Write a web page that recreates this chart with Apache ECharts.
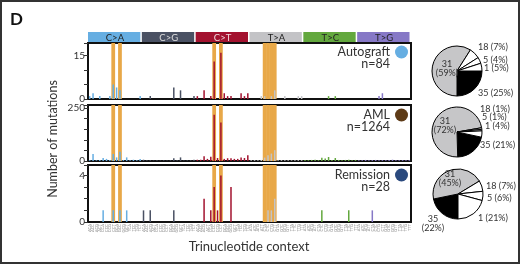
<!DOCTYPE html>
<html>
<head>
<meta charset="utf-8">
<script src="https://cdn.jsdelivr.net/npm/echarts@6/dist/echarts.min.js"></script>
<style>
  html, body { margin: 0; padding: 0; background: #fff; }
  #main { width: 520px; height: 264px; }
</style>
</head>
<body>
<div id="main"></div>
<script>
// mutation classes and trinucleotide context labels
var mutTypes = ['C>A', 'C>G', 'C>T', 'T>A', 'T>C', 'T>G'];
var bases = ['A', 'C', 'G', 'T'];
var categories = [];
mutTypes.forEach(function (t) {
  bases.forEach(function (b5) {
    bases.forEach(function (b3) { categories.push(b5 + t[0] + b3); });
  });
});

// counts per context (16 per class, order C>A, C>G, C>T, T>A, T>C, T>G)
var autograft = [
  1,2,0,1, 0,0,1,5, 4,3,0,0, 0,0,0,1,
  0,0,1,0, 0,0,0,0, 0,4,0,3, 0,0,0,1,
  1,0,3,0, 1,13,0,16, 2,1,1,0, 0,2,1,2,
  0,0,0,1, 1,0,1,3, 0,0,1,0, 0,0,1,1,
  0,0,0,0, 0,0,0,1, 0,1,0,0, 0,0,0,0,
  0,0,0,0, 0,0,1,2, 0,0,0,0, 0,0,0,0
];
var aml = [
  4,33,3,5, 14,10,5,33, 17,44,4,17, 3,6,4,10,
  6,3,3,2, 3,2,3,2, 3,13,3,17, 2,3,3,6,
  6,6,22,10, 20,218,14,182, 10,13,13,10, 10,17,14,27,
  3,4,3,5, 16,27,35,51, 3,4,3,4, 3,4,4,4,
  5,4,5,6, 4,15,12,19, 5,14,5,4, 5,6,4,5,
  4,4,5,3, 4,5,4,4, 4,5,6,4, 3,4,3,4
];
var remission = [
  0,0,0,0, 1,0,0,1, 0,1,0,1, 0,0,0,0,
  1,0,1,0, 0,0,0,0, 0,1,0,0, 0,0,0,0,
  0,0,2,0, 1,3,1,4, 0,0,3,0, 0,0,0,0,
  0,0,0,0, 0,1,1,2, 0,0,0,0, 0,0,0,0,
  0,0,0,0, 0,1,0,0, 0,0,0,0, 0,1,0,0,
  0,0,0,0, 1,0,0,0, 0,0,0,0, 0,0,0,0
];
var highlighted = [7, 9, 37, 39, 52, 53, 54, 55];

var sampleNames = ['Autograft', 'AML', 'Remission'];
var sampleN = ['n=84', 'n=1264', 'n=28'];
var yMax = [19.4, 264, 4.9];
var yStep = [5, 50, 1];
var yShown = [[0, 15], [0, 250], [0, 4]];

// pies: slice names (counts) and percentages
var pieNames = ['35', '31', '18', '5', '1'];
var piePct = [
  [25, 59, 7, 4, 5],
  [21, 72, 1, 1, 4],
  [22, 45, 7, 6, 21]
];

var typeColors = ['#66aee2', '#4a5163', '#a3122f', '#c3c3c6', '#63a83e', '#8678c6'];
var stripText = ['#222', '#ddd', '#f0d8dc', '#222', '#222', '#222'];
var dotColors = ['#66aee2', '#5e3b17', '#2b4a7e'];
var bandColor = '#e8a848';
var font = 'Lato';

var gridLeft = 88, gridW = 323;
var gridTops = [43, 105, 165], gridHs = [56, 56, 57];
var bandW = gridW / categories.length + 0.4;

var grids = [], xAxes = [], yAxes = [], ser = [];
[autograft, aml, remission].forEach(function (vals, i) {
  grids.push({ left: gridLeft, top: gridTops[i], width: gridW, height: gridHs[i],
    show: true, borderColor: '#111', borderWidth: 2, backgroundColor: 'transparent' });
  xAxes.push({
    type: 'category', gridIndex: i, data: categories,
    axisLine: { show: false }, axisTick: { show: false }, splitLine: { show: false },
    axisLabel: i === 2 ? { show: true, interval: 0, rotate: 90, fontSize: 4, margin: 2,
      color: '#888', fontFamily: font } : { show: false }
  });
  yAxes.push({
    type: 'value', gridIndex: i, min: 0, max: yMax[i], interval: yStep[i],
    axisLine: { show: false }, splitLine: { show: false },
    axisTick: { show: true, length: 4, lineStyle: { color: '#333', width: 1 } },
    axisLabel: { fontSize: 10, color: '#333', margin: 3, fontFamily: font,
      formatter: function (v) { return yShown[i].indexOf(v) >= 0 ? String(v) : ''; } }
  });
});
[0, 1, 2].forEach(function (i) {
  xAxes.push({ type: 'category', gridIndex: i, data: categories, show: false });
});
[autograft, aml, remission].forEach(function (vals, i) {
  ser.push({
    type: 'bar', xAxisIndex: 3 + i, yAxisIndex: i, barWidth: bandW, silent: true, z: 1,
    itemStyle: { color: bandColor },
    data: categories.map(function (c, k) { return highlighted.indexOf(k) >= 0 ? yMax[i] : '-'; })
  });
  ser.push({
    type: 'bar', xAxisIndex: i, yAxisIndex: i, barWidth: 1.5, z: 3,
    itemStyle: { color: function (p) { return typeColors[Math.floor(p.dataIndex / 16)]; } },
    data: vals
  });
});

var pieCenters = [[457, 71], [457, 132], [458, 194]];
var pieStart = [0, 348, 270];
var pieLabelPos = [
  [[478, 93, 'left'], [447, 69, 'center'], [478, 47, 'left'], [483, 60, 'left'], [484, 68, 'left']],
  [[480, 145, 'left'], [445, 126, 'center'], [480, 109, 'left'], [482, 117, 'left'], [485, 126, 'left']],
  [[433, 224, 'center'], [450, 179, 'center'], [486, 186, 'left'], [487, 198, 'left'], [478, 218, 'left']]
];
var sliceColors = ['#000', '#c6c6c8', '#fff', '#fff', '#fff'];
piePct.forEach(function (pcts, i) {
  ser.push({
    type: 'pie', center: pieCenters[i], radius: 25, startAngle: pieStart[i], clockwise: true,
    avoidLabelOverlap: false, silent: true,
    itemStyle: { borderColor: '#000', borderWidth: 1 },
    labelLine: { show: false },
    label: {
      show: true, fontSize: 9, color: '#333', fontFamily: font, lineHeight: 9,
      formatter: function (p) {
        var big = (p.dataIndex === 1) || (i === 2 && p.dataIndex === 0);
        return p.name + (big ? '\n' : ' ') + '(' + p.value + '%)';
      }
    },
    labelLayout: function (p) {
      var s = pieLabelPos[i][p.dataIndex];
      return { x: s[0], y: s[1], align: s[2], verticalAlign: 'middle' };
    },
    data: pieNames.map(function (n, k) {
      return { name: n, value: pcts[k], itemStyle: { color: sliceColors[k] } };
    })
  });
});

var graphics = [
  { type: 'rect', shape: { x: 1, y: 1, width: 518, height: 262 }, silent: true,
    style: { fill: 'none', stroke: '#333', lineWidth: 2 } },
  { type: 'text', x: 10, y: 11, style: { text: 'D', fontSize: 17, fontWeight: 'bold', fill: '#111', fontFamily: font } },
  { type: 'text', x: 53, y: 139, rotation: Math.PI / 2,
    style: { text: 'Number of mutations', fontSize: 12.5, fill: '#333', align: 'center', verticalAlign: 'middle', fontFamily: font } },
  { type: 'text', x: 249, y: 247,
    style: { text: 'Trinucleotide context', fontSize: 13, fill: '#333', align: 'center', verticalAlign: 'middle', fontFamily: font } }
];
var stripW = gridW / 6;
mutTypes.forEach(function (t, k) {
  graphics.push({ type: 'rect', shape: { x: gridLeft + k * stripW, y: 32, width: stripW - 1.5, height: 10 },
    style: { fill: typeColors[k], stroke: 'none' } });
  graphics.push({ type: 'text', x: gridLeft + k * stripW + stripW / 2, y: 37.5,
    style: { text: t, fontSize: 9.5, fill: stripText[k], align: 'center', verticalAlign: 'middle', fontFamily: font } });
});
var labelY = [[52, 63.5], [115, 127], [175, 187]];
sampleNames.forEach(function (s, i) {
  graphics.push({ type: 'text', x: 390, y: labelY[i][0],
    style: { text: s, fontSize: 12.5, fill: '#333', align: 'right', verticalAlign: 'middle', fontFamily: font } });
  graphics.push({ type: 'text', x: 390, y: labelY[i][1],
    style: { text: sampleN[i], fontSize: 12.5, fill: '#333', align: 'right', verticalAlign: 'middle', fontFamily: font } });
  graphics.push({ type: 'circle', shape: { cx: 401.5, cy: labelY[i][0], r: 6.5 }, style: { fill: dotColors[i] } });
});

var chart = echarts.init(document.getElementById('main'), null, { renderer: 'canvas' });
chart.setOption({
  animation: false,
  backgroundColor: '#fff',
  grid: grids,
  xAxis: xAxes,
  yAxis: yAxes,
  series: ser,
  graphic: graphics
});
</script>
</body>
</html>
